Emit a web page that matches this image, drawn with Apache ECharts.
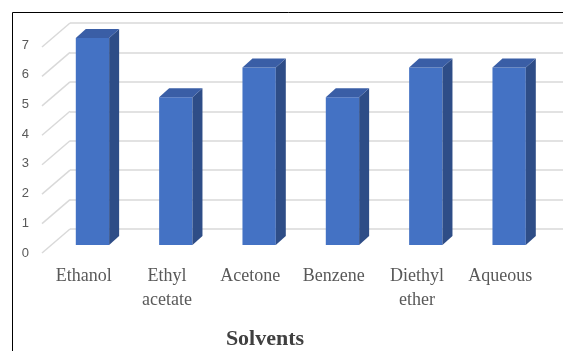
<!DOCTYPE html>
<html lang="en">
<head>
    <meta charset="UTF-8">
    <script src="https://cdn.jsdelivr.net/npm/echarts@6/dist/echarts.min.js"></script>
    <style>
        body { margin: 0; background: #ffffff; }
        #chart { width: 563px; height: 351px; }
    </style>
</head>
<body>
    <div id="chart"></div>
    <script>
        var categories = ['Ethanol', 'Ethyl\nacetate', 'Acetone', 'Benzene', 'Diethyl\nether', 'Aqueous'];
        var values = [7, 5, 6, 5, 6, 6];
        var yTicks = [0, 1, 2, 3, 4, 5, 6, 7];

        var chart = echarts.init(document.getElementById('chart'));

        // 3d look: depth of the bars and of the floor
        var barDx = 10, barDy = -9;
        var wallDx = 28, wallDy = -24;

        function renderBar(params, api) {
            var top = api.coord([api.value(0), api.value(1)]);
            var base = api.coord([api.value(0), 0]);
            var w = api.size([1, 0])[0] * 0.4;
            var x0 = top[0] - w / 2, x1 = top[0] + w / 2;
            return {
                type: 'group',
                children: [
                    { type: 'rect', shape: { x: x0, y: top[1], width: w, height: base[1] - top[1] },
                      style: { fill: '#4472c4' } },
                    { type: 'polygon', shape: { points: [[x1, top[1]], [x1 + barDx, top[1] + barDy], [x1 + barDx, base[1] + barDy], [x1, base[1]]] },
                      style: { fill: '#2e4d87' } },
                    { type: 'polygon', shape: { points: [[x0, top[1]], [x0 + barDx, top[1] + barDy], [x1 + barDx, top[1] + barDy], [x1, top[1]]] },
                      style: { fill: '#3a5ea6' } }
                ]
            };
        }

        function renderDiag(params, api) {
            var p = api.coord([0, api.value(0)]);
            return {
                type: 'line',
                shape: { x1: p[0], y1: p[1], x2: p[0] - wallDx, y2: p[1] - wallDy },
                style: { stroke: '#d9d9d9', lineWidth: 1.5 }
            };
        }

        var option = {
            backgroundColor: '#ffffff',
            animation: false,
            grid: [
                { left: 50.8, right: 12.2, top: 38, bottom: 106 },   // bars
                { left: 70, right: 0, top: 23, bottom: 122 },        // back wall
                { left: 42, right: 21, top: 45, bottom: 98 }          // labels
            ],
            xAxis: [
                { gridIndex: 0, type: 'category', data: categories, show: false },
                { gridIndex: 1, type: 'value', min: 0, max: 1, show: false },
                { gridIndex: 2, type: 'category', data: categories,
                  axisLine: { show: false }, axisTick: { show: false },
                  axisLabel: { fontFamily: 'Liberation Serif', fontSize: 18, color: '#595959', lineHeight: 24, margin: 11 } }
            ],
            yAxis: [
                { gridIndex: 0, type: 'value', min: 0, max: 7, show: false },
                { gridIndex: 1, type: 'value', min: 0, max: 7, interval: 1,
                  axisLabel: { show: false }, axisLine: { show: false }, axisTick: { show: false },
                  splitLine: { lineStyle: { color: '#d9d9d9', width: 1.5 } } },
                { gridIndex: 2, type: 'value', min: 0, max: 7, interval: 1,
                  axisLine: { show: false }, axisTick: { show: false }, splitLine: { show: false },
                  axisLabel: { fontFamily: 'Liberation Sans', fontSize: 13, color: '#595959', margin: 13 } }
            ],
            series: [
                { type: 'custom', xAxisIndex: 1, yAxisIndex: 1, renderItem: renderDiag, data: yTicks.map(function (v) { return [v]; }), z: 1 },
                { type: 'custom', xAxisIndex: 0, yAxisIndex: 0, renderItem: renderBar,
                  data: values.map(function (v, i) { return [i, v]; }), encode: { x: 0, y: 1 }, z: 5 }
            ],
            graphic: [
                { type: 'rect', shape: { x: 12.5, y: 12.5, width: 700, height: 500 },
                  style: { fill: null, stroke: '#000000', lineWidth: 1 }, z: 10 },
                { type: 'text', x: 265, y: 339,
                  style: { text: 'Solvents', fontFamily: 'Liberation Serif', fontWeight: 'bold', fontSize: 22,
                           fill: '#404040', align: 'center', verticalAlign: 'middle' }, z: 10 }
            ]
        };

        chart.setOption(option);
    </script>
</body>
</html>
